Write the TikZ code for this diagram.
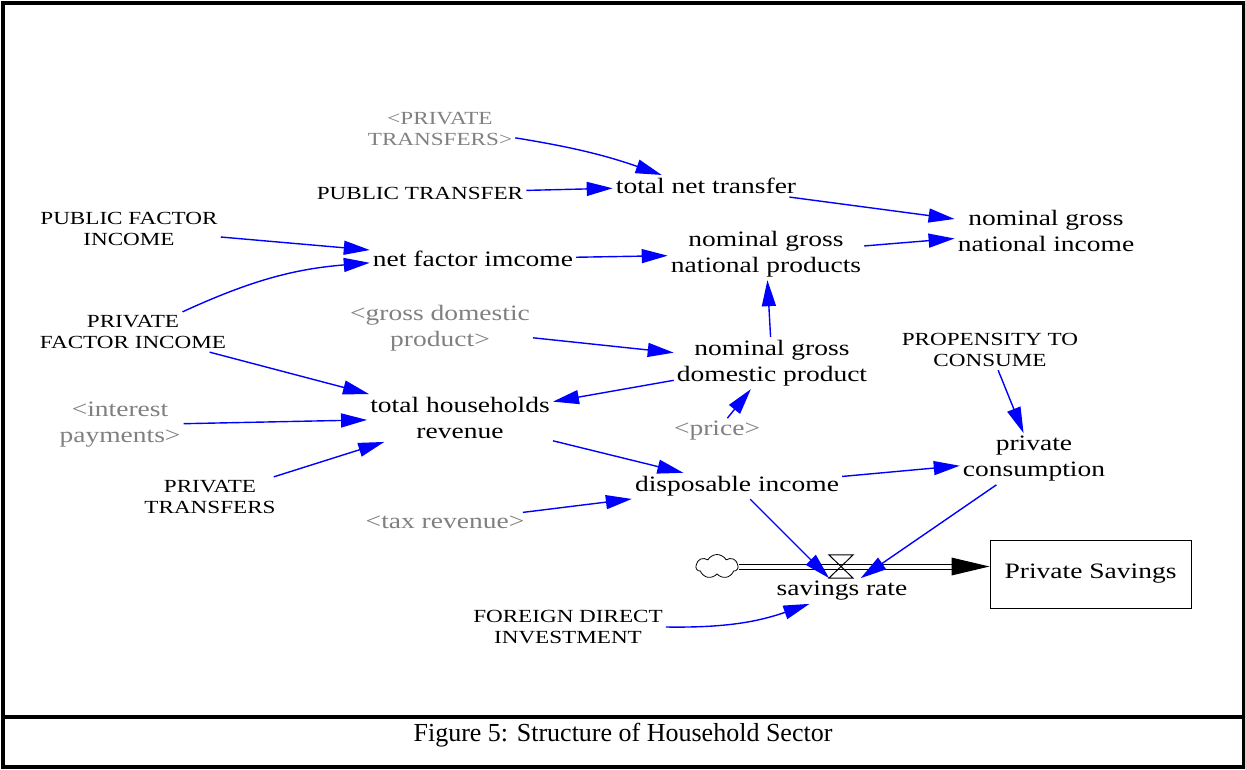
\documentclass[tikz,border=0pt]{standalone}
\usepackage{fontspec}
\setmainfont{Liberation Serif}[FakeStretch=1.25]
\newfontfamily\capfont{Liberation Serif}
\usetikzlibrary{arrows.meta,shapes.symbols,calc}

\definecolor{linkblue}{RGB}{0,0,255}
\definecolor{shadowgray}{RGB}{128,128,128}

\tikzset{
  var/.style={font=\fontsize{22}{26}\selectfont, align=center, inner sep=3pt},
  cst/.style={font=\fontsize{18.5}{21.5}\selectfont, align=center, inner sep=3pt},
  shadow/.style={text=shadowgray},
  link/.style={draw=linkblue, line width=1.4pt, -{Triangle[length=26pt,width=14pt]}},
  stockbox/.style={draw, line width=1pt, minimum width=201pt, minimum height=68pt, inner sep=0pt},
  pipe/.style={double distance=4pt, line width=1pt},
}

\begin{document}
\begin{tikzpicture}[x=1pt,y=-1pt]
\useasboundingbox (0,0) rectangle (1245,769);

% frame and caption strip
\draw[line width=4pt] (3,3) rectangle (1243.5,766.5);
\draw[line width=4pt] (3,716.5) -- (1243.5,716.5);
\node[font=\capfont\fontsize{26}{30}\selectfont, inner sep=0pt] (cap) at (623,735) {Figure 5: Structure of Household Sector};

% variables
\node[cst,shadow] (ptg)  at (440,129) {<PRIVATE\\TRANSFERS>};
\node[var]        (tnt)  at (706,186) {total net transfer};
\node[cst]        (pubt) at (420,193) {PUBLIC TRANSFER};
\node[cst]        (pfi)  at (129,229) {PUBLIC FACTOR\\INCOME};
\node[var]        (nfi)  at (473,259) {net factor imcome};
\node[var]        (ngnp) at (766,254) {nominal gross\\national products};
\node[var]        (ngni) at (1046,231) {nominal gross\\national income};
\node[cst]        (prfi) at (133,332) {PRIVATE\\FACTOR INCOME};
\node[var,shadow] (gdp)  at (440,328) {<gross domestic\\product>};
\node[var]        (ngdp) at (772,363) {nominal gross\\domestic product};
\node[cst]        (prop) at (990,350) {PROPENSITY TO\\CONSUME};
\node[var]        (thr)  at (460,418) {total households\\revenue};
\node[var,shadow] (intp) at (120,425) {<interest\\payments>};
\node[var,shadow] (price) at (717,431) {<price>};
\node[var]        (pc)   at (1034,459) {private\\consumption};
\node[cst]        (prt)  at (210,497) {PRIVATE\\TRANSFERS};
\node[var]        (di)   at (737,486) {disposable income};
\node[var,shadow] (tax)  at (445,522) {<tax revenue>};
\node[cst]        (fdi)  at (568,627) {FOREIGN DIRECT\\INVESTMENT};

% stock and flow
\node[var,stockbox] (stock) at (1090.5,574) {Private Savings};
\node[cloud, draw, line width=0.8pt, cloud puffs=7, cloud puff arc=120, aspect=1.8,
      minimum width=42pt, minimum height=24pt, inner sep=0pt] (src) at (717,566.5) {};
\node[inner sep=0pt, minimum width=24pt, minimum height=23pt] (valve) at (841,566.5) {};
\node[var] (sr) at (842,591) {savings rate};

\coordinate (tip) at (stock.west |- src.east);
\coordinate (base) at ($(tip)+(-36,0)$);
\draw[pipe] (src.east) -- (base);
\fill (tip) -- ($(tip)+(-38,-9)$) -- ($(tip)+(-38,9)$) -- cycle;
\draw[line width=1pt] (valve.north west) -- (valve.north east) -- (valve.south west) -- (valve.south east) -- cycle;

% links
\draw[link] (ptg) to[bend left=5] (tnt.166);
\draw[link] (pubt) -- (tnt);
\draw[link] (tnt) -- (ngni);
\draw[link] (pfi) -- (nfi);
\draw[link] (prfi) to[bend left=10] (nfi);
\draw[link] (nfi) -- (ngnp);
\draw[link] (ngnp) -- (ngni);
\draw[link] (ngdp) -- (ngnp);
\draw[link] (gdp) -- (ngdp);
\draw[link] (ngdp) -- (thr);
\draw[link] (prfi) -- (thr);
\draw[link] (intp) -- (thr);
\draw[link] (prt) -- (thr);
\draw[link] (price) -- (ngdp);
\draw[link] (thr) -- (di);
\draw[link] (tax) -- (di);
\draw[link] (di) -- (pc);
\draw[link] (prop) -- (pc);
\draw[link] (di) -- (sr);
\draw[link] (pc) -- (sr);
\draw[link] (fdi.east) to[bend right=10] (sr);
\end{tikzpicture}
\end{document}
